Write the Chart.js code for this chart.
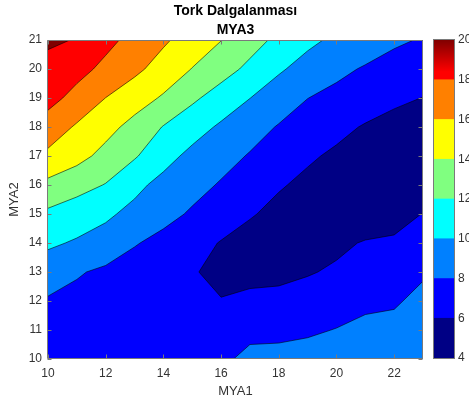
<!DOCTYPE html>
<html>
<head>
<meta charset="utf-8">
<script src="https://cdn.jsdelivr.net/npm/chart.js@4.4.1/dist/chart.umd.min.js"></script>
<style>
html, body { margin: 0; padding: 0; background: #fff; }
#wrap { position: relative; width: 469px; height: 410px; overflow: hidden; }
#main { position: absolute; left: 0; top: 0; }
#bar { position: absolute; left: 420px; top: 0; }
</style>
</head>
<body>
<div id="wrap">
  <canvas id="main" width="469" height="410"></canvas>
  <canvas id="bar" width="49" height="410"></canvas>
</div>
<script>
// grid (MYA1 across, MYA2 up)
const xValues = [10, 11, 12, 13, 14, 15, 16, 17, 18, 19, 20, 21, 22, 23];
const yValues = [10, 11, 12, 13, 14, 15, 16, 17, 18, 19, 20, 21];

// torque ripple, one row per MYA2 value
const z10 = [7.2, 7.0, 6.9, 6.9, 7.0, 7.2, 7.6, 8.52, 8.55, 8.69, 8.95, 9.15, 9.3, 9.5];
const z11 = [7.5, 7.2, 7.0, 6.8, 6.7, 6.6, 6.9, 7.48, 7.55, 7.75, 8.06, 8.4, 8.54, 9.0];
const z12 = [7.8, 7.45, 7.1, 6.85, 6.6, 6.35, 6.06, 6.45, 6.54, 6.84, 7.17, 7.65, 7.78, 8.5];
const z13 = [9.0, 8.19, 7.62, 7.12, 6.62, 6.12, 5.6, 5.4, 5.5, 5.85, 6.27, 6.9, 7.03, 7.77];
const z14 = [10.3, 9.8, 9.3, 8.14, 7.41, 6.68, 5.9, 5.3, 5.0, 5.1, 5.6, 6.15, 6.27, 6.91];
const z15 = [11.63, 10.96, 10.3, 9.51, 8.62, 7.76, 6.96, 6.16, 5.5, 5.1, 4.8, 4.7, 5.3, 6.05];
const z16 = [13.5, 12.73, 11.91, 10.45, 9.45, 8.64, 7.83, 7.0, 6.17, 5.6, 5.2, 4.6, 4.7, 5.0];
const z17 = [15.6, 14.63, 13.41, 12.2, 10.66, 9.51, 8.68, 7.86, 7.09, 6.25, 5.7, 5.4, 5.2, 5.1];
const z18 = [17.1, 15.77, 14.64, 13.36, 11.91, 10.79, 9.72, 8.77, 7.87, 7.18, 6.48, 5.85, 5.5, 5.4];
const z19 = [18.65, 17.38, 15.98, 14.9, 13.77, 12.35, 11.14, 10.02, 9.01, 8.02, 7.49, 6.97, 6.3, 5.97];
const z20 = [19.5, 18.63, 17.53, 16.43, 15.22, 13.94, 12.78, 11.56, 10.24, 9.3, 8.45, 7.82, 7.42, 7.03];
const z21 = [20.25, 19.92, 18.53, 17.4, 16.28, 15.16, 14.04, 12.77, 11.55, 10.42, 9.63, 9.05, 8.25, 7.88];
const zRows = [z10, z11, z12, z13, z14, z15, z16, z17, z18, z19, z20, z21];

const levels = [6, 8, 10, 12, 14, 16, 18, 20];
const bandColors = ['#000085', '#0000ff', '#0080ff', '#00ffff', '#80ff80', '#ffff00', '#ff8000', '#ff0000', '#800000'];

const xTickValues = [10, 12, 14, 16, 18, 20, 22];
const yTickValues = [10, 11, 12, 13, 14, 15, 16, 17, 18, 19, 20, 21];
const barTickValues = [4, 6, 8, 10, 12, 14, 16, 18, 20];
const barLows = [4, 6, 8, 10, 12, 14, 16, 18];

const textColor = '#333333';
const axisColor = '#7a7a7a';
const fontFamily = 'Liberation Sans, Arial, Helvetica, sans-serif';

// clip one grid cell to z >= t (marching squares by edge interpolation)
function clipCell(i, j, t) {
    const c = [
        [xValues[i], yValues[j], zRows[j][i]],
        [xValues[i + 1], yValues[j], zRows[j][i + 1]],
        [xValues[i + 1], yValues[j + 1], zRows[j + 1][i + 1]],
        [xValues[i], yValues[j + 1], zRows[j + 1][i]]
    ];
    const out = [];
    for (let k = 0; k < 4; k++) {
        const p = c[k], q = c[(k + 1) % 4];
        const pin = p[2] >= t, qin = q[2] >= t;
        if (pin) out.push({ x: p[0], y: p[1], cut: false });
        if (pin !== qin) {
            const s = (t - p[2]) / (q[2] - p[2]);
            out.push({ x: p[0] + s * (q[0] - p[0]), y: p[1] + s * (q[1] - p[1]), cut: true });
        }
    }
    return out;
}

const contourPlugin = {
    id: 'contour',
    beforeDatasetsDraw(chart) {
        const { ctx, chartArea: a, scales } = chart;
        const xs = scales.x, ys = scales.y;
        ctx.save();
        ctx.beginPath();
        ctx.rect(a.left, a.top, a.width, a.height);
        ctx.clip();
        ctx.fillStyle = bandColors[0];
        ctx.fillRect(a.left, a.top, a.width, a.height);

        const segs = [];
        levels.forEach((t, k) => {
            ctx.beginPath();
            for (let j = 0; j < yValues.length - 1; j++) {
                for (let i = 0; i < xValues.length - 1; i++) {
                    const poly = clipCell(i, j, t);
                    if (poly.length < 3) continue;
                    poly.forEach((p, n) => {
                        const px = xs.getPixelForValue(p.x), py = ys.getPixelForValue(p.y);
                        if (n === 0) ctx.moveTo(px, py); else ctx.lineTo(px, py);
                    });
                    ctx.closePath();
                    for (let n = 0; n < poly.length; n++) {
                        const p = poly[n], q = poly[(n + 1) % poly.length];
                        if (p.cut && q.cut) segs.push([p, q]);
                    }
                }
            }
            ctx.fillStyle = bandColors[k + 1];
            ctx.fill();
        });

        ctx.strokeStyle = 'rgba(0,0,0,0.8)';
        ctx.lineWidth = 0.7;
        ctx.lineJoin = 'round';
        ctx.beginPath();
        segs.forEach(([p, q]) => {
            ctx.moveTo(xs.getPixelForValue(p.x), ys.getPixelForValue(p.y));
            ctx.lineTo(xs.getPixelForValue(q.x), ys.getPixelForValue(q.y));
        });
        ctx.stroke();
        ctx.restore();
    },
    afterDraw(chart) {
        const { ctx, chartArea: a, scales } = chart;
        ctx.save();
        ctx.strokeStyle = axisColor;
        ctx.lineWidth = 1;
        const L = Math.round(a.left) - 0.5, R = Math.round(a.right) - 0.5;
        const T = Math.round(a.top) + 0.5, B = Math.round(a.bottom) - 0.5;
        ctx.beginPath();
        ctx.rect(L, T, R - L, B - T);
        xTickValues.forEach(v => {
            const px = Math.round(scales.x.getPixelForValue(v)) + 0.5;
            ctx.moveTo(px, B); ctx.lineTo(px, B - 4);
            ctx.moveTo(px, T); ctx.lineTo(px, T + 4);
        });
        yTickValues.forEach(v => {
            const py = Math.round(scales.y.getPixelForValue(v)) + 0.5;
            ctx.moveTo(L, py); ctx.lineTo(L + 4, py);
            ctx.moveTo(R, py); ctx.lineTo(R - 4, py);
        });
        ctx.stroke();
        ctx.restore();
    }
};

const gridPoints = [];
zRows.forEach((row, j) => row.forEach((z, i) => gridPoints.push({ x: xValues[i], y: yValues[j] })));

new Chart(document.getElementById('main'), {
    type: 'scatter',
    data: { datasets: [{ data: gridPoints, pointRadius: 0, pointHoverRadius: 0 }] },
    options: {
        responsive: false,
        animation: false,
        events: [],
        layout: { padding: { left: 0, right: 46, top: 0, bottom: 0 } },
        plugins: {
            legend: { display: false },
            tooltip: { enabled: false },
            title: {
                display: true,
                fullSize: false,
                text: ['Tork Dalgalanması', 'MYA3'],
                color: '#000',
                font: { family: fontFamily, size: 14, weight: 'bold', lineHeight: 1.3 },
                padding: { top: 2.5, bottom: 1.1 }
            }
        },
        scales: {
            x: {
                type: 'linear', min: 10, max: 23,
                afterBuildTicks: s => { s.ticks = xTickValues.map(v => ({ value: v })); },
                afterFit: s => { s.height = 51; },
                grid: { display: false, drawTicks: false },
                border: { display: false },
                ticks: { color: textColor, font: { family: fontFamily, size: 12 }, padding: 7, maxRotation: 0, autoSkip: false },
                title: { display: true, text: 'MYA1', color: textColor, font: { family: fontFamily, size: 13 }, padding: { top: 0, bottom: 11 } }
            },
            y: {
                type: 'linear', min: 10, max: 21,
                afterBuildTicks: s => { s.ticks = yTickValues.map(v => ({ value: v })); },
                afterFit: s => { s.width = 48; },
                grid: { display: false, drawTicks: false },
                border: { display: false },
                ticks: { color: textColor, font: { family: fontFamily, size: 12 }, padding: 6, autoSkip: false },
                title: { display: true, text: 'MYA2', color: textColor, font: { family: fontFamily, size: 13 }, padding: { top: 6.5, bottom: 0 } }
            }
        }
    },
    plugins: [contourPlugin]
});

// colour bar
const barBoxPlugin = {
    id: 'barBox',
    afterDraw(chart) {
        const { ctx, chartArea: a } = chart;
        ctx.save();
        ctx.strokeStyle = axisColor;
        ctx.lineWidth = 1;
        ctx.strokeRect(Math.round(a.left) - 0.5, Math.round(a.top) - 0.5, Math.round(a.width) + 1, Math.round(a.height) + 1);
        ctx.restore();
    }
};

function topBandColor(c) {
    const chart = c.chart;
    if (!chart.chartArea) return bandColors[7];
    const ys = chart.scales.y;
    const g = chart.ctx.createLinearGradient(0, ys.getPixelForValue(20), 0, ys.getPixelForValue(18.4));
    g.addColorStop(0, bandColors[8]);
    g.addColorStop(1, bandColors[7]);
    return g;
}

new Chart(document.getElementById('bar'), {
    type: 'bar',
    data: {
        labels: [''],
        datasets: barLows.map((lo, k) => ({
            data: [[lo, lo + 2]],
            backgroundColor: k === barLows.length - 1 ? topBandColor : bandColors[k],
            borderWidth: 0,
            grouped: false,
            barPercentage: 1,
            categoryPercentage: 1
        }))
    },
    options: {
        responsive: false,
        animation: false,
        events: [],
        layout: { padding: { left: 14, right: 0, top: 40, bottom: 52 } },
        plugins: { legend: { display: false }, tooltip: { enabled: false } },
        scales: {
            x: { display: false },
            y: {
                position: 'right', min: 4, max: 20,
                afterBuildTicks: s => { s.ticks = barTickValues.map(v => ({ value: v })); },
                afterFit: s => { s.width = 15; },
                grid: { display: false, drawTicks: false },
                border: { display: false },
                ticks: { color: textColor, font: { family: fontFamily, size: 12 }, padding: 4, autoSkip: false }
            }
        }
    },
    plugins: [barBoxPlugin]
});
</script>
</body>
</html>
